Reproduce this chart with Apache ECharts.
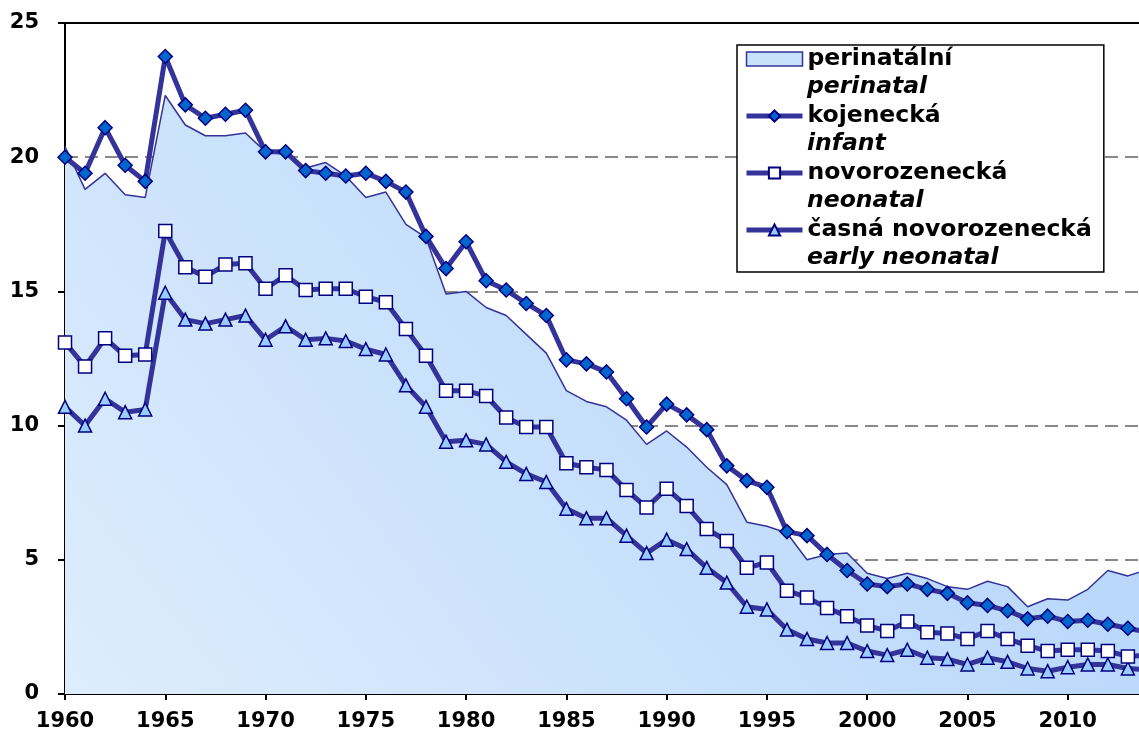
<!DOCTYPE html>
<html>
<head>
<meta charset="utf-8">
<script src="https://cdn.jsdelivr.net/npm/echarts@6/dist/echarts.min.js"></script>
<style>
  html, body { margin: 0; padding: 0; background: #fff; }
  #chart { width: 1139px; height: 738px; }
</style>
</head>
<body>
<div id="chart"></div>
<script>
const years = [
  1960, 1961, 1962, 1963, 1964, 1965, 1966, 1967, 1968, 1969,
  1970, 1971, 1972, 1973, 1974, 1975, 1976, 1977, 1978, 1979,
  1980, 1981, 1982, 1983, 1984, 1985, 1986, 1987, 1988, 1989,
  1990, 1991, 1992, 1993, 1994, 1995, 1996, 1997, 1998, 1999,
  2000, 2001, 2002, 2003, 2004, 2005, 2006, 2007, 2008, 2009,
  2010, 2011, 2012, 2013, 2014
];
// perinatální
const perinatal = [
  20.4, 18.8, 19.4, 18.6, 18.5, 22.3, 21.2, 20.8, 20.8, 20.9,
  20.2, 20.1, 19.6, 19.8, 19.3, 18.5, 18.7, 17.5, 17.0, 14.9,
  15.0, 14.4, 14.1, 13.4, 12.7, 11.3, 10.9, 10.7, 10.2, 9.3,
  9.8, 9.2, 8.45, 7.8, 6.4, 6.25, 6.0, 5.0, 5.2, 5.25,
  4.5, 4.3, 4.5, 4.3, 4.0, 3.9, 4.2, 4.0, 3.25, 3.55,
  3.5, 3.9, 4.6, 4.4, 4.65
];
// kojenecká
const infant = [
  20.0, 19.4, 21.1, 19.7, 19.1, 23.75, 21.95, 21.45, 21.6, 21.75,
  20.2, 20.2, 19.5, 19.4, 19.3, 19.4, 19.1, 18.7, 17.05, 15.85,
  16.85, 15.4, 15.05, 14.55, 14.1, 12.45, 12.3, 12.0, 11.0, 9.95,
  10.8, 10.4, 9.85, 8.5, 7.95, 7.7, 6.05, 5.9, 5.2, 4.6,
  4.1, 4.0, 4.1, 3.9, 3.75, 3.4, 3.3, 3.1, 2.8, 2.9,
  2.7, 2.75, 2.6, 2.45, 2.3
];
// novorozenecká
const neonatal = [
  13.1, 12.2, 13.25, 12.6, 12.65, 17.25, 15.9, 15.55, 16.0, 16.05,
  15.1, 15.6, 15.05, 15.1, 15.1, 14.8, 14.6, 13.6, 12.6, 11.3,
  11.3, 11.1, 10.3, 9.95, 9.95, 8.6, 8.45, 8.35, 7.6, 6.95,
  7.65, 7.0, 6.15, 5.7, 4.7, 4.9, 3.85, 3.6, 3.2, 2.9,
  2.55, 2.35, 2.7, 2.3, 2.25, 2.05, 2.35, 2.05, 1.8, 1.6,
  1.65, 1.65, 1.6, 1.4, 1.45
];
// časná novorozenecká
const earlyNeonatal = [
  10.7, 10.0, 11.0, 10.5, 10.6, 14.95, 13.95, 13.8, 13.95, 14.1,
  13.2, 13.7, 13.2, 13.25, 13.15, 12.85, 12.65, 11.5, 10.7, 9.4,
  9.45, 9.3, 8.65, 8.2, 7.9, 6.9, 6.55, 6.55, 5.9, 5.25,
  5.75, 5.4, 4.7, 4.15, 3.25, 3.15, 2.4, 2.05, 1.9, 1.9,
  1.6, 1.45, 1.65, 1.35, 1.3, 1.1, 1.35, 1.2, 0.95, 0.85,
  1.0, 1.1, 1.1, 0.95, 0.9
];

const seriesNames = ['perinatální', 'kojenecká', 'novorozenecká', 'časná novorozenecká'];
const englishNames = ['perinatal', 'infant', 'neonatal', 'early neonatal'];

const FONT = 'DejaVu Sans';
const LINE = '#333399';
const EDGE = '#000080';

const pairs = vals => years.map((y, i) => [y, vals[i]]);
const english = {};
seriesNames.forEach((n, i) => { english[n] = englishNames[i]; });

const chart = echarts.init(document.getElementById('chart'));

// plot runs past the right edge of the page, so the last years are cut off
const option = {
  animation: false,
  grid: { left: 65, top: 23, height: 671, width: 1103, outerBoundsMode: 'none', containLabel: false },
  xAxis: [
    {
      type: 'value',
      min: 1960,
      max: 2015,
      interval: 5,
      axisLine: { lineStyle: { color: '#000', width: 2 } },
      axisTick: { length: 6, lineStyle: { color: '#000', width: 2 } },
      splitLine: { show: false },
      axisLabel: {
        color: '#000', fontFamily: FONT, fontWeight: 'bold', fontSize: 21, margin: 17,
        formatter: v => String(v)
      }
    },
    {
      type: 'value',
      position: 'top',
      min: 1960,
      max: 2015,
      axisLine: { show: true, onZero: false, lineStyle: { color: '#000', width: 2 } },
      axisTick: { show: false },
      axisLabel: { show: false },
      splitLine: { show: false }
    }
  ],
  yAxis: {
    type: 'value',
    min: 0,
    max: 25,
    interval: 5,
    axisLine: { show: true, lineStyle: { color: '#000', width: 2 } },
    axisTick: { show: true, length: 7, lineStyle: { color: '#000', width: 2 } },
    splitLine: { lineStyle: { color: '#888', width: 2, type: [13, 7] } },
    axisLabel: { color: '#000', fontFamily: FONT, fontWeight: 'bold', fontSize: 21, margin: 26 }
  },
  legend: [
    {
      orient: 'vertical',
      left: 737,
      top: 45,
      padding: [2, 12, 30, 7],
      itemWidth: 56,
      itemHeight: 14,
      itemGap: 33,
      borderColor: '#000',
      borderWidth: 1.5,
      borderRadius: 0,
      backgroundColor: '#fff',
      lineStyle: { width: 5 },
      textStyle: { color: '#000', fontFamily: FONT, fontWeight: 'bold', fontSize: 23.5, lineHeight: 24 },
      data: [
        { name: seriesNames[0], icon: 'rect', itemStyle: { color: '#c9e2fc', borderColor: LINE, borderWidth: 1.5 } },
        seriesNames[1], seriesNames[2], seriesNames[3]
      ]
    },
    {
      orient: 'vertical',
      left: 746,
      top: 75,
      padding: 0,
      itemWidth: 56,
      itemHeight: 14,
      itemGap: 33,
      selectedMode: false,
      textStyle: { color: '#000', fontFamily: FONT, fontWeight: 'bold', fontStyle: 'italic', fontSize: 23.5, lineHeight: 24 },
      formatter: name => english[name],
      data: seriesNames.map(n => ({ name: n, icon: 'none' }))
    }
  ],
  series: [
    {
      name: seriesNames[0],
      type: 'line',
      data: pairs(perinatal),
      symbol: 'none',
      lineStyle: { color: LINE, width: 1.5 },
      itemStyle: { color: LINE },
      areaStyle: {
        opacity: 1,
        color: new echarts.graphic.LinearGradient(0, 1, 0.7, 0, [
          { offset: 0, color: '#deedfd' },
          { offset: 1, color: '#b6d6fa' }
        ])
      },
      z: 1
    },
    {
      name: seriesNames[3],
      type: 'line',
      data: pairs(earlyNeonatal),
      symbol: 'triangle',
      symbolSize: 13,
      lineStyle: { color: LINE, width: 5 },
      itemStyle: { color: '#99ccff', borderColor: EDGE, borderWidth: 1.5 },
      z: 3
    },
    {
      name: seriesNames[2],
      type: 'line',
      data: pairs(neonatal),
      symbol: 'rect',
      symbolSize: 13,
      lineStyle: { color: LINE, width: 5 },
      itemStyle: { color: '#ffffff', borderColor: EDGE, borderWidth: 1.5 },
      z: 3
    },
    {
      name: seriesNames[1],
      type: 'line',
      data: pairs(infant),
      symbol: 'diamond',
      symbolSize: 14,
      lineStyle: { color: LINE, width: 5 },
      itemStyle: { color: '#0066cc', borderColor: EDGE, borderWidth: 1.5 },
      z: 3
    }
  ]
};

chart.setOption(option);
</script>
</body>
</html>
